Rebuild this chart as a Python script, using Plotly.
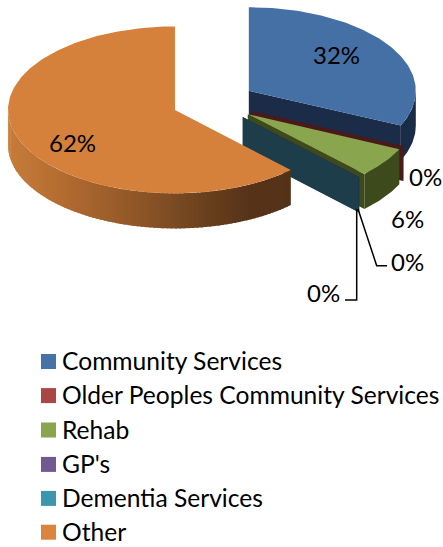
import math
import plotly.graph_objects as go

# Share of spend by service, clockwise from twelve o'clock
categories = ["Community Services", "Older Peoples Community Services", "Rehab",
              "GP's", "Dementia Services", "Other"]
shares = [31.8, 0.1, 5.8, 0.05, 0.05, 62.2]

top_colors = ["#4470A6", "#AA4643", "#89A54E", "#71588F", "#3D96AE", "#D6813B"]
wall_colors = ["#1A2C47", "#4A1A1A", "#3C4A1C", "#33264A", "#1C3D49", "#55321A"]
legend_colors = ["#4572A7", "#AA4643", "#89A54E", "#71588F", "#3D96AE", "#DB843D"]

# Pie geometry in page pixels
CX, CY = 213.7, 102.1
RX, RY = 167.0, 83.5
DEPTH = 35.0
EXPLODE = 0.25

# Side-wall shading of the large slice, keyed on page x
ORANGE_RAMP = [(8, (198, 124, 58)), (60, (180, 108, 48)), (130, (146, 88, 40)),
               (200, (108, 66, 30)), (250, (86, 50, 24)), (295, (84, 50, 24))]

# Label placement: slice index -> page position
LABEL_POS = {0: (336, 54), 1: (425.5, 176), 2: (407, 218), 3: (407, 261),
             4: (323, 292), 5: (72, 142)}
LEADERS = [[(356.7, 209), (356.7, 300), (345, 300)],
           [(358, 209), (376.7, 265.7), (387, 265.7)]]
LEGEND_X = 48.5
LEGEND_TEXT_X = 59.5
LEGEND_Y = [361.5, 395.6, 430, 464.4, 498.4, 532.2]
LEGEND_TEXT_LIFT = 1

FONT = "Lato"
LABEL_SIZE = 24
LEGEND_SIZE = 24.6


def rim(cx, cy, deg, drop=0.0):
    a = math.radians(deg)
    return cx + RX * math.sin(a), cy - RY * math.cos(a) + drop


def ramp_color(x):
    for (x0, c0), (x1, c1) in zip(ORANGE_RAMP, ORANGE_RAMP[1:]):
        if x <= x1:
            t = max(0.0, (x - x0) / (x1 - x0))
            return "rgb(%d,%d,%d)" % tuple(round(a + (b - a) * t) for a, b in zip(c0, c1))
    return "rgb(%d,%d,%d)" % ORANGE_RAMP[-1][1]


def polygon(points, color, name):
    xs = [p[0] for p in points] + [points[0][0]]
    ys = [p[1] for p in points] + [points[0][1]]
    return go.Scatter(x=xs, y=ys, mode="lines", fill="toself", fillcolor=color,
                      line=dict(width=0), name=name, hoverinfo="name", showlegend=False)


fig = go.Figure()

start = 0.0
for i, (name, share) in enumerate(zip(categories, shares)):
    sweep = share * 3.6
    end = start + sweep
    mid = math.radians(start + sweep / 2)
    cx = CX + EXPLODE * RX * math.sin(mid)
    cy = CY - EXPLODE * RY * math.cos(mid)

    # Cut face at the clockwise end, only when it looks toward the viewer
    if end < 180:
        outer = rim(cx, cy, end)
        fig.add_trace(polygon([(cx, cy), outer, (outer[0], outer[1] + DEPTH), (cx, cy + DEPTH)],
                              wall_colors[i], name))

    # Outer wall on the front half of the rim
    lo, hi = max(start, 90.0), min(end, 270.0)
    if hi > lo:
        if i == 5:
            steps = 90
            for k in range(steps):
                a0 = lo + (hi - lo) * k / steps
                a1 = lo + (hi - lo) * (k + 1.6) / steps
                a1 = min(a1, hi)
                p0, p1 = rim(cx, cy, a0), rim(cx, cy, a1)
                fig.add_trace(polygon([p0, p1, (p1[0], p1[1] + DEPTH), (p0[0], p0[1] + DEPTH)],
                                      ramp_color((p0[0] + p1[0]) / 2), name))
        else:
            angles = [lo + (hi - lo) * k / 30 for k in range(31)]
            upper = [rim(cx, cy, a) for a in angles]
            lower = [rim(cx, cy, a, DEPTH) for a in reversed(angles)]
            fig.add_trace(polygon(upper + lower, wall_colors[i], name))

    # Top face
    n = max(2, int(sweep) + 2)
    top = [(cx, cy)] + [rim(cx, cy, start + sweep * k / n) for k in range(n + 1)]
    fig.add_trace(polygon(top, top_colors[i], name))

    start = end

# Leader lines for the labels that sit away from their slices
for path in LEADERS:
    fig.add_trace(go.Scatter(x=[p[0] for p in path], y=[p[1] for p in path], mode="lines",
                             line=dict(color="black", width=1.5), hoverinfo="skip",
                             showlegend=False))

# Percentage labels
for i, share in enumerate(shares):
    x, y = LABEL_POS[i]
    fig.add_annotation(x=x, y=y, text=f"{round(share)}%", showarrow=False,
                       font=dict(family=FONT, size=LABEL_SIZE, color="black"),
                       xanchor="center", yanchor="middle")

# Key below the pie
for name, color, y in zip(categories, legend_colors, LEGEND_Y):
    fig.add_trace(go.Scatter(x=[LEGEND_X], y=[y], mode="markers", name=name,
                             marker=dict(symbol="square", size=15, color=color),
                             hoverinfo="name", showlegend=False))
    fig.add_annotation(x=LEGEND_TEXT_X, y=y - LEGEND_TEXT_LIFT, text=name, showarrow=False,
                       font=dict(family=FONT, size=LEGEND_SIZE, color="black"),
                       xanchor="left", yanchor="middle")

fig.update_layout(
    width=443, height=547, margin=dict(l=0, r=0, t=0, b=0),
    paper_bgcolor="white", plot_bgcolor="white", showlegend=False,
    xaxis=dict(range=[0, 443], visible=False, fixedrange=True),
    yaxis=dict(range=[547, 0], visible=False, fixedrange=True),
)

fig.write_html("out.html", config={"displayModeBar": False})
